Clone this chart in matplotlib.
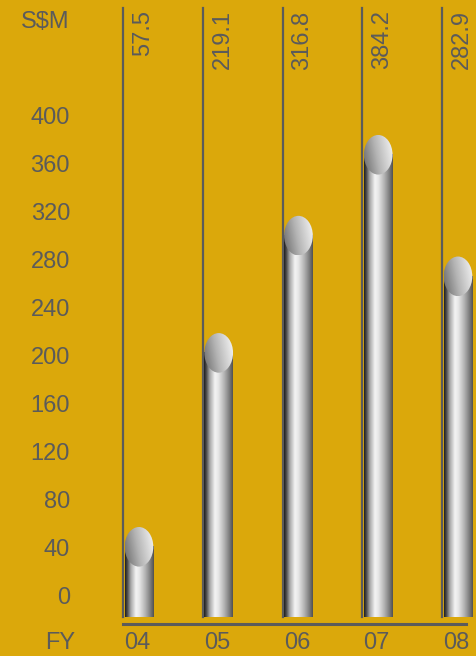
import matplotlib
matplotlib.use("Agg")
import matplotlib.pyplot as plt
import matplotlib.colors as mcolors
from matplotlib.patches import Ellipse
import numpy as np

years = ["04", "05", "06", "07", "08"]
values = [57.5, 219.1, 316.8, 384.2, 282.9]
value_labels = ["57.5", "219.1", "316.8", "384.2", "282.9"]
y_ticks = [0, 40, 80, 120, 160, 200, 240, 280, 320, 360, 400]

BG = "#dba80b"
INK = "#5b5b5b"
FONT = ["Liberation Sans", "DejaVu Sans"]

plt.rcParams["font.family"] = FONT

fig = plt.figure(figsize=(4.76, 6.56), dpi=100, facecolor=BG)
ax = fig.add_axes([0, 0, 1, 1])
ax.set_facecolor(BG)
ax.axis("off")

# cylinder shading across the bar width
cyl = mcolors.LinearSegmentedColormap.from_list("cyl", [
    (0.0, "#1e1e1e"), (0.08, "#4a4a4a"), (0.2, "#a8a8a8"), (0.38, "#f4f4f4"),
    (0.5, "#e6e6e6"), (0.7, "#b4b4b4"), (0.88, "#7c7c7c"), (1.0, "#505050")])
cap = mcolors.LinearSegmentedColormap.from_list("cap", [
    (0.0, "#6a6a6a"), (0.45, "#b4b4b4"), (1.0, "#f8f8f8")])

bar_w = 0.36
bar_off = 0.02
bottom = -17.5
cap_h = 33
row = np.linspace(0, 1, 256)[None, :]
gx, gy = np.meshgrid(np.linspace(0, 1, 64), np.linspace(0, 1, 64))
cap_grad = 0.8 * gx + 0.2 * (1 - gy)

for i, v in enumerate(values):
    x0 = i + bar_off
    yc = v - cap_h / 2
    ax.imshow(row, extent=[x0, x0 + bar_w, bottom, yc], aspect="auto", cmap=cyl, zorder=3)
    ell = Ellipse((x0 + bar_w / 2, yc), bar_w, cap_h, facecolor="none", edgecolor="none",
                  transform=ax.transData, zorder=4)
    ax.add_patch(ell)
    im = ax.imshow(cap_grad, extent=[x0, x0 + bar_w, v - cap_h, v], aspect="auto", cmap=cap,
                   origin="upper", zorder=4)
    im.set_clip_path(ell)
    ax.plot([i, i], [bottom, 490], color=INK, lw=1.6, zorder=2)
    ax.text(i + 0.25, 488, value_labels[i], rotation=90, ha="center", va="top",
            fontsize=17, color=INK)
    ax.text(i + 0.18, -39, years[i], ha="center", va="center", fontsize=17, color=INK)

ax.plot([0, 4.3], [-23.5, -23.5], color=INK, lw=2.2, zorder=2)

for t in y_ticks:
    ax.text(-0.665, t - 2, str(t), ha="right", va="center", fontsize=17, color=INK)
ax.text(-0.79, -39, "FY", ha="center", va="center", fontsize=17, color=INK)
ax.text(-0.98, 478.5, "S$M", ha="center", va="center", fontsize=17, color=INK)

ax.set_xlim(-123 / 79.75, 353 / 79.75)
ax.set_ylim(-50, 596 / 1.2)

fig.savefig("out.png", dpi=100, facecolor=BG)
